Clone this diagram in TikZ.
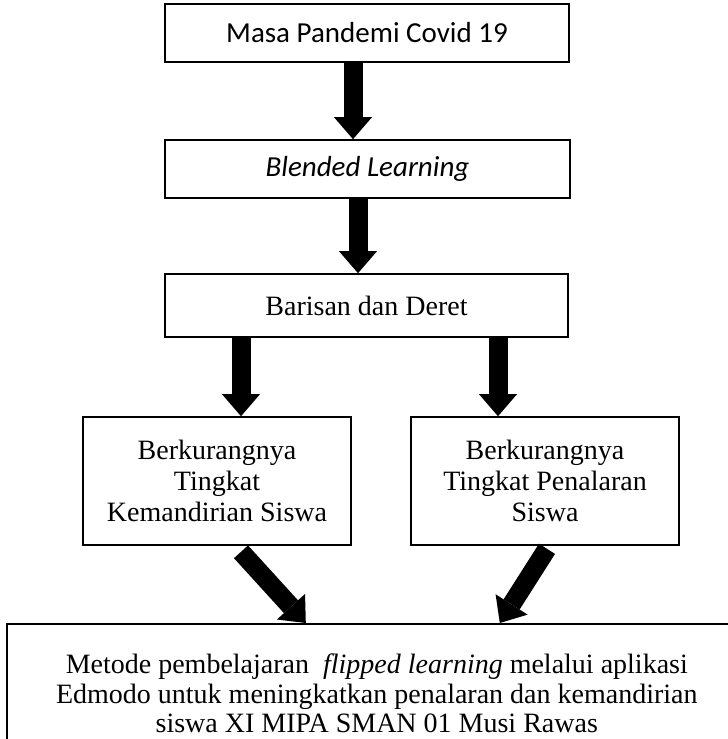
\documentclass[tikz,border=0pt]{standalone}
\usepackage{fontspec}
\setmainfont{Liberation Serif}
\newfontfamily\calibrifont{Carlito}
\usetikzlibrary{arrows.meta,calc}

\begin{document}
\begin{tikzpicture}[
  x=1pt,y=-1pt,
  font=\fontsize{28}{31}\selectfont,
  box/.style={draw,line width=1.6pt,inner sep=0pt,align=center},
  sansbox/.style={box,font=\calibrifont\fontsize{29}{34}\selectfont},
  blockarrow/.style={line width=19pt,-{Triangle[width=38pt,length=22pt,line width=0pt]}}
]
\path[use as bounding box,clip] (0,0) rectangle (728,739);

% boxes
\node[sansbox,minimum width=404pt,minimum height=58pt] (pandemi) at (367,33) {Masa Pandemi Covid 19};
\node[sansbox,minimum width=405pt,minimum height=58pt] (blended) at (367.5,169) {\textit{Blended Learning}};
\node[box,minimum width=403pt,minimum height=63pt] (barisan) at (366.5,305.5) {Barisan dan Deret};
\node[box,minimum width=268pt,minimum height=128pt] (kurangmandiri) at (217,481) {Berkurangnya\\Tingkat\\Kemandirian Siswa};
\node[box,minimum width=268pt,minimum height=128pt] (kurangnalar) at (545,481) {Berkurangnya\\Tingkat Penalaran\\Siswa};
\node[box,anchor=north west,minimum width=740pt,inner ysep=30pt,font=\fontsize{28}{29.5}\selectfont] (metode) at (6,623)
  {Metode pembelajaran\ \ \textit{flipped learning} melalui aplikasi\\Edmodo untuk meningkatkan penalaran dan kemandirian\\siswa XI MIPA SMAN 01 Musi Rawas};

% arrows
\draw[blockarrow] ([xshift=-14pt]pandemi.south) -- ([xshift=-14.5pt]blended.north);
\draw[blockarrow] ([xshift=-9.5pt]blended.south) -- ([xshift=-8.5pt]barisan.north);
\draw[blockarrow] ([xshift=-125.5pt]barisan.south) -- ([xshift=24pt]kurangmandiri.north);
\draw[blockarrow] ([xshift=131.5pt]barisan.south) -- ([xshift=-47pt]kurangnalar.north);
\draw[blockarrow] ([xshift=24pt,yshift=-6pt]kurangmandiri.south) -- ([xshift=-71pt]metode.north);
\draw[blockarrow] ([xshift=2pt,yshift=-3pt]kurangnalar.south) -- ([xshift=123pt]metode.north);
\end{tikzpicture}
\end{document}
